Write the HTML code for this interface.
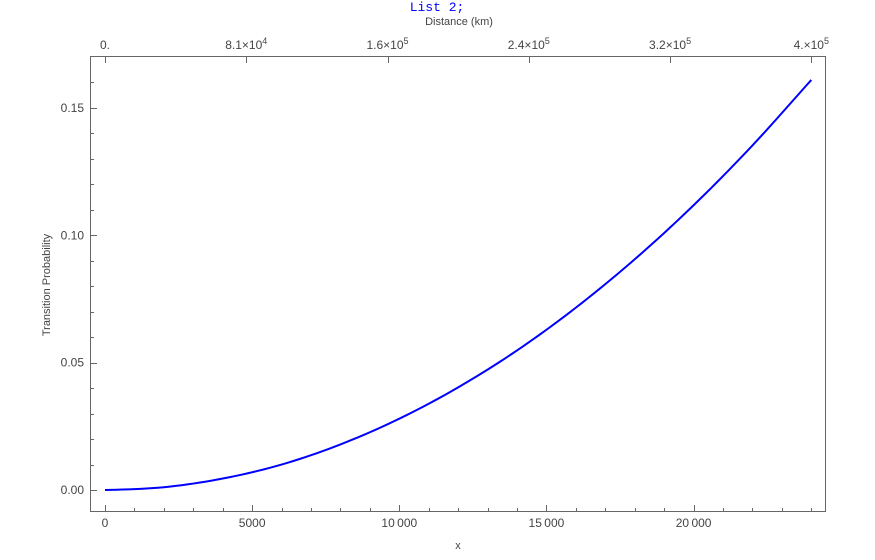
<!DOCTYPE html>
<html><head><meta charset="utf-8"><style>
body{margin:0;background:#fff;width:875px;height:555px;overflow:hidden}
text{font-family:"Liberation Sans",sans-serif;fill:#444}
</style></head><body>
<svg id="chart" width="875" height="555" viewBox="0 0 875 555">
<text x="437" y="11" text-anchor="middle" style="font-family:'Liberation Mono',monospace;font-size:13px;fill:#0000ff">List 2;</text>
<text x="459" y="25" text-anchor="middle" font-size="11">Distance (km)</text>
<text x="458" y="549" text-anchor="middle" font-size="11">x</text>
<text transform="translate(50,285) rotate(-90)" text-anchor="middle" font-size="11">Transition Probability</text>
<rect x="90.5" y="56.5" width="735" height="455" fill="none" stroke="#666" stroke-width="1"/>
<g id="ticks"></g>
<path id="curve" fill="none" stroke="#0000ff" stroke-width="2"/>
</svg>
<script>
const xValues=[0,2000,4000,6000,8000,10000,12000,14000,16000,18000,20000,22000,24000];
const yValues=[0,0.0011,0.0045,0.0100,0.0179,0.0280,0.0403,0.0548,0.0716,0.0906,0.1118,0.1353,0.161];
const xTicks=[0,5000,10000,15000,20000];
const xTickLabels=["0","5000","10\u2009000","15\u2009000","20\u2009000"];
const yTicks=[0,0.05,0.10,0.15];
const yTickLabels=["0.00","0.05","0.10","0.15"];
const topTicks=[0,4800,9600,14400,19200,24000];
const topMant=["0.","8.1","1.6","2.4","3.2","4."];
const topExp=["","4","5","5","5","5"];
const X=v=>105+v*0.02943;
const Y=v=>490-v*2547;
const NS='http://www.w3.org/2000/svg';
const g=document.getElementById('ticks');
function line(x1,y1,x2,y2,name){const l=document.createElementNS(NS,'line');l.setAttribute('x1',x1);l.setAttribute('y1',y1);l.setAttribute('x2',x2);l.setAttribute('y2',y2);l.setAttribute('stroke','#666');


g.appendChild(l);}
function text(x,y,s,anchor,name){const t=document.createElementNS(NS,'text');t.setAttribute('x',x);t.setAttribute('y',y);t.setAttribute('text-anchor',anchor);t.setAttribute('font-size','12');t.textContent=s;


g.appendChild(t);return t;}
for(let v=0;v<=24000;v+=1000){const x=Math.round(X(v))+0.5;const maj=v%5000===0;line(x,511,x,maj?505:508,'x-tick');}
xTicks.forEach((v,i)=>text(X(v),527,xTickLabels[i],'middle','x-tick-label'));
for(let k=-1;k<=16;k++){const v=k*0.01;const y=Math.round(Y(v))+0.5;if(y<57||y>511)continue;const maj=k%5===0;line(91,y,maj?97:94,y,'y-tick');}
yTicks.forEach((v,i)=>text(84,Y(v)+4,yTickLabels[i],'end','y-tick-label'));
topTicks.forEach((v,i)=>{const x=Math.round(X(v))+0.5;line(x,57,x,63,'top-tick');
const t=text(X(v),49,'','middle','top-tick-label');
if(topExp[i]===''){t.textContent=topMant[i];}else{
const a=document.createElementNS(NS,'tspan');a.textContent=topMant[i]+'\u00d710';t.appendChild(a);
const b=document.createElementNS(NS,'tspan');b.setAttribute('dy','-5');b.setAttribute('font-size','9');b.textContent=topExp[i];t.appendChild(b);}});
let d='';
for(let i=0;i<xValues.length-1;i++){
 const x0=xValues[i],x1=xValues[i+1],y0=yValues[i],y1=yValues[i+1];
 const m0=i>0?(yValues[i+1]-yValues[i-1])/(xValues[i+1]-xValues[i-1]):(y1-y0)/(x1-x0)*0.5;
 const m1=i+2<xValues.length?(yValues[i+2]-yValues[i])/(xValues[i+2]-xValues[i]):(y1-y0)/(x1-x0);
 for(let s=(i===0?0:1);s<=10;s++){const t=s/10,h=x1-x0;
  const v=(2*t*t*t-3*t*t+1)*y0+(t*t*t-2*t*t+t)*h*m0+(-2*t*t*t+3*t*t)*y1+(t*t*t-t*t)*h*m1;
  d+=(d?'L':'M')+X(x0+t*h).toFixed(2)+' '+Y(v).toFixed(2);}
}
document.getElementById('curve').setAttribute('d',d);
</script>
</body></html>
